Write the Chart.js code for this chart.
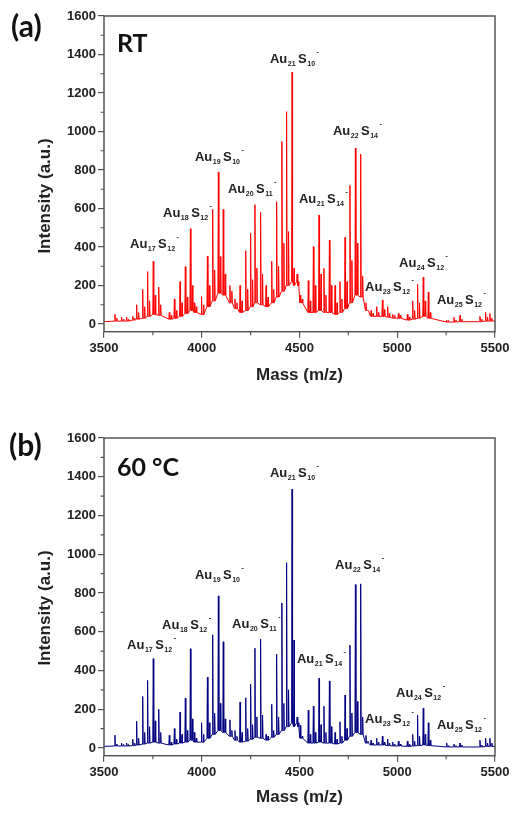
<!DOCTYPE html>
<html>
<head>
<meta charset="utf-8">
<script src="https://cdn.jsdelivr.net/npm/chart.js@4.4.1/dist/chart.umd.min.js"></script>
<style>
body { margin: 0; background: #fff; width: 518px; height: 814px; position: relative; overflow: hidden; }
.panel { position: absolute; left: 0; width: 518px; }
#wrapA { top: 0; height: 400px; }
#wrapB { top: 410px; height: 404px; }
</style>
</head>
<body>
<div class="panel" id="wrapA"><canvas id="chartA"></canvas></div>
<div class="panel" id="wrapB"><canvas id="chartB"></canvas></div>
<script>
// main peak positions (m/z)
const peakMass = [3556, 3590, 3616, 3647, 3667, 3698, 3723, 3752, 3780, 3834,
    3860, 3889, 3916, 3942, 3962, 3999, 4029, 4056, 4085, 4110,
    4144, 4170, 4196, 4225, 4250, 4272, 4301, 4329, 4358, 4383,
    4410, 4434, 4462, 4472, 4504, 4545, 4571, 4600, 4625, 4653,
    4682, 4707, 4733, 4758, 4786, 4813, 4840, 4866, 4895, 4924,
    4951, 4977, 5006, 5052, 5079, 5104, 5133, 5159, 5253, 5290,
    5321, 5423, 5452, 5474];

// smaller satellite peaks next to each main peak
const satMass = [3566, 3600, 3626, 3657, 3677, 3708, 3733, 3762, 3790, 3844,
    3870, 3899, 3926, 3952, 3972, 4009, 4039, 4066, 4095, 4120,
    4154, 4180, 4206, 4235, 4260, 4282, 4311, 4339, 4368, 4393,
    4420, 4444, 4488, 4494, 4514, 4555, 4581, 4610, 4635, 4663,
    4692, 4717, 4743, 4768, 4796, 4823, 4850, 4876, 4905, 4934,
    4961, 4987, 5016, 5062, 5089, 5114, 5143, 5169, 5263, 5300,
    5331, 5433, 5462, 5484];

// (a) RT: peak heights, satellite heights, local baseline
const peakRT = [50, 35, 35, 40, 100, 180, 272, 327, 192, 60,
    130, 220, 298, 495, 110, 142, 352, 596, 790, 596,
    200, 130, 200, 381, 471, 620, 580, 200, 326, 635,
    947, 1103, 1309, 290, 150, 225, 402, 566, 289, 436,
    200, 220, 450, 720, 914, 883, 110, 70, 90, 125,
    90, 50, 55, 50, 120, 206, 243, 166, 20, 35,
    45, 40, 60, 55];
const satRT = [30, 25, 25, 30, 60, 90, 120, 150, 100, 45,
    70, 110, 140, 200, 90, 100, 200, 280, 350, 260,
    170, 110, 120, 180, 230, 290, 260, 140, 180, 300,
    420, 480, 260, 220, 130, 120, 200, 260, 150, 200,
    110, 130, 220, 330, 420, 250, 70, 55, 60, 75,
    55, 45, 45, 35, 70, 110, 120, 60, 18, 20,
    25, 25, 35, 30];
const footRT = [15, 15, 15, 20, 25, 30, 40, 50, 45, 25,
    30, 40, 55, 70, 60, 50, 90, 120, 160, 150,
    110, 80, 60, 70, 90, 110, 100, 90, 110, 140,
    170, 200, 220, 200, 110, 60, 60, 70, 60, 60,
    50, 60, 80, 110, 150, 140, 70, 40, 40, 40,
    35, 30, 30, 20, 25, 30, 40, 30, 10, 10,
    12, 12, 15, 15];

// (b) 60 °C
const peak60 = [66, 25, 25, 45, 138, 266, 349, 461, 200, 65,
    100, 185, 257, 512, 80, 130, 366, 584, 785, 548,
    145, 90, 237, 259, 329, 515, 562, 70, 225, 484,
    748, 956, 1336, 557, 117, 195, 215, 360, 215, 346,
    80, 135, 273, 531, 843, 847, 65, 40, 50, 60,
    45, 30, 35, 35, 70, 170, 205, 130, 25, 20,
    25, 40, 50, 50];
const sat60 = [20, 18, 18, 25, 50, 80, 110, 140, 80, 30,
    45, 70, 90, 150, 50, 70, 130, 180, 230, 150,
    90, 60, 80, 100, 120, 160, 170, 60, 90, 160,
    230, 300, 160, 130, 60, 70, 80, 120, 80, 110,
    45, 60, 100, 180, 240, 160, 35, 25, 30, 30,
    25, 20, 20, 18, 35, 60, 70, 40, 12, 12,
    15, 15, 25, 25];
const foot60 = [10, 10, 10, 12, 15, 20, 25, 30, 25, 15,
    20, 25, 30, 40, 30, 30, 50, 70, 90, 80,
    60, 40, 30, 35, 45, 55, 50, 40, 55, 70,
    90, 110, 130, 110, 50, 25, 25, 30, 25, 25,
    20, 25, 40, 60, 80, 70, 25, 15, 15, 15,
    12, 10, 10, 8, 10, 12, 15, 12, 5, 5,
    5, 5, 8, 8];

const edgeMass = [3500, 5500];
const edgeRT = [12, 15];
const edge60 = [8, 8];

const xTicks = [3500, 4000, 4500, 5000, 5500];
const yTicks = [0, 200, 400, 600, 800, 1000, 1200, 1400, 1600];

// cluster labels: Au_n S_m^-
const labelAu = ['17', '18', '19', '20', '21', '21', '22', '23', '24', '25'];
const labelS = ['12', '12', '10', '11', '10', '14', '14', '12', '12', '12'];
const labelMassRT = [3633, 3802, 3965, 4134, 4349, 4497, 4671, 4835, 5009, 5203];
const labelIntRT = [421, 582, 873, 707, 1382, 655, 1008, 197, 322, 130];
const labelMass60 = [3618, 3797, 3965, 4155, 4349, 4487, 4682, 4835, 4994, 5203];
const labelInt60 = [538, 641, 900, 646, 1424, 465, 947, 154, 289, 123];

const FONT = 'Arial, "Liberation Sans", Helvetica, sans-serif';

function buildSpectrum(heights, sats, feet, edges) {
    const peaks = [];
    peakMass.forEach((m, i) => {
        peaks.push({ m: m, h: heights[i], f: feet[i] });
        peaks.push({ m: satMass[i], h: sats[i], f: feet[i] });
    });
    peaks.sort((p, q) => p.m - q.m);
    const pts = [{ x: edgeMass[0], y: edges[0] }];
    peaks.forEach(p => {
        pts.push({ x: p.m - 2.5, y: p.f });
        pts.push({ x: p.m, y: p.h });
        pts.push({ x: p.m + 2.5, y: p.f });
    });
    pts.push({ x: edgeMass[1], y: edges[1] });
    return pts;
}

function drawCluster(ctx, x, y, au, s) {
    const big = 'bold 13px ' + FONT;
    const small = 'bold 7px ' + FONT;
    ctx.textAlign = 'left';
    ctx.textBaseline = 'alphabetic';
    const base = y + 5;
    ctx.font = big;
    ctx.fillText('Au', x, base);
    x += ctx.measureText('Au').width + 0.5;
    ctx.font = small;
    ctx.fillText(au, x, base + 3);
    x += ctx.measureText(au).width + 2.5;
    ctx.font = big;
    ctx.fillText('S', x, base);
    x += ctx.measureText('S').width + 0.5;
    ctx.font = small;
    ctx.fillText(s, x, base + 3);
    x += ctx.measureText(s).width + 1.5;
    ctx.fillText('-', x, base - 9);
}

// frame, minor ticks, titles and labels
const decorPlugin = {
    id: 'decor',
    afterDraw(chart) {
        const o = chart.options.plugins.decor;
        const ctx = chart.ctx;
        const a = chart.chartArea;
        const xs = chart.scales.x, ys = chart.scales.y;
        ctx.save();
        ctx.strokeStyle = '#555';
        ctx.lineWidth = 1.5;
        ctx.strokeRect(a.left, a.top, a.right - a.left, a.bottom - a.top);

        ctx.lineWidth = 1.2;
        ctx.beginPath();
        for (let v = 100; v < 1600; v += 200) {
            const py = ys.getPixelForValue(v);
            ctx.moveTo(a.left, py);
            ctx.lineTo(a.left - 3.5, py);
        }
        for (let v = 3750; v < 5500; v += 500) {
            const px = xs.getPixelForValue(v);
            ctx.moveTo(px, a.bottom);
            ctx.lineTo(px, a.bottom + 3.5);
        }
        ctx.stroke();

        ctx.fillStyle = '#222';
        ctx.textAlign = 'center';
        ctx.textBaseline = 'middle';
        ctx.font = 'bold 17px ' + FONT;
        ctx.fillText('Mass (m/z)', (a.left + a.right) / 2, a.bottom + o.xTitleOffset);
        ctx.save();
        ctx.translate(45, a.top + o.yTitleOffset);
        ctx.rotate(-Math.PI / 2);
        ctx.fillText('Intensity (a.u.)', 0, 0);
        ctx.restore();

        ctx.fillStyle = '#111';
        ctx.textAlign = 'left';
        ctx.font = 'bold 30px Lato, sans-serif';
        ctx.fillText(o.panel, o.panelX, o.panelY);
        ctx.font = 'bold 25px Lato, sans-serif';
        ctx.fillText(o.tag, 117, o.tagY);

        ctx.fillStyle = '#222';
        o.labelMass.forEach((m, i) => {
            drawCluster(ctx, xs.getPixelForValue(m), ys.getPixelForValue(o.labelInt[i]), labelAu[i], labelS[i]);
        });
        ctx.restore();
    }
};

function makeChart(id, data, color, pad, decor) {
    return new Chart(document.getElementById(id), {
        type: 'line',
        data: {
            datasets: [{
                data: data,
                borderColor: color,
                borderWidth: 1,
                pointRadius: 0,
                tension: 0,
                fill: false
            }]
        },
        options: {
            responsive: true,
            maintainAspectRatio: false,
            animation: false,
            layout: { padding: pad },
            plugins: { legend: { display: false }, tooltip: { enabled: false }, decor: decor },
            scales: {
                x: {
                    type: 'linear',
                    min: 3500,
                    max: 5500,
                    afterBuildTicks: s => { s.ticks = xTicks.map(v => ({ value: v })); },
                    afterFit: s => { s.height = 30; },
                    border: { display: false },
                    grid: { drawOnChartArea: false, tickLength: 6, color: '#555', lineWidth: 1.2 },
                    ticks: { color: '#222', padding: 3, maxRotation: 0, callback: v => String(v),
                        font: { family: FONT, size: 13, weight: 'bold' } }
                },
                y: {
                    min: -40,
                    max: 1600,
                    afterBuildTicks: s => { s.ticks = yTicks.map(v => ({ value: v })); },
                    afterFit: s => { s.width = 104; },
                    border: { display: false },
                    grid: { drawOnChartArea: false, tickLength: 6, color: '#555', lineWidth: 1.2 },
                    ticks: { color: '#222', padding: 2, callback: v => String(v),
                        font: { family: FONT, size: 13, weight: 'bold' } }
                }
            }
        },
        plugins: [decorPlugin]
    });
}

makeChart('chartA', buildSpectrum(peakRT, satRT, footRT, edgeRT), '#ff0000',
    { left: 0, top: 16, right: 23, bottom: 38.3 },
    { panel: '(a)', panelX: 11, panelY: 27, tag: 'RT', tagY: 44, xTitleOffset: 44, yTitleOffset: 180,
      labelMass: labelMassRT, labelInt: labelIntRT });

makeChart('chartB', buildSpectrum(peak60, sat60, foot60, edge60), '#000080',
    { left: 0, top: 28, right: 23, bottom: 28.3 },
    { panel: '(b)', panelX: 9, panelY: 36, tag: '60 °C', tagY: 58, xTitleOffset: 42, yTitleOffset: 170,
      labelMass: labelMass60, labelInt: labelInt60 });
</script>
</body>
</html>
